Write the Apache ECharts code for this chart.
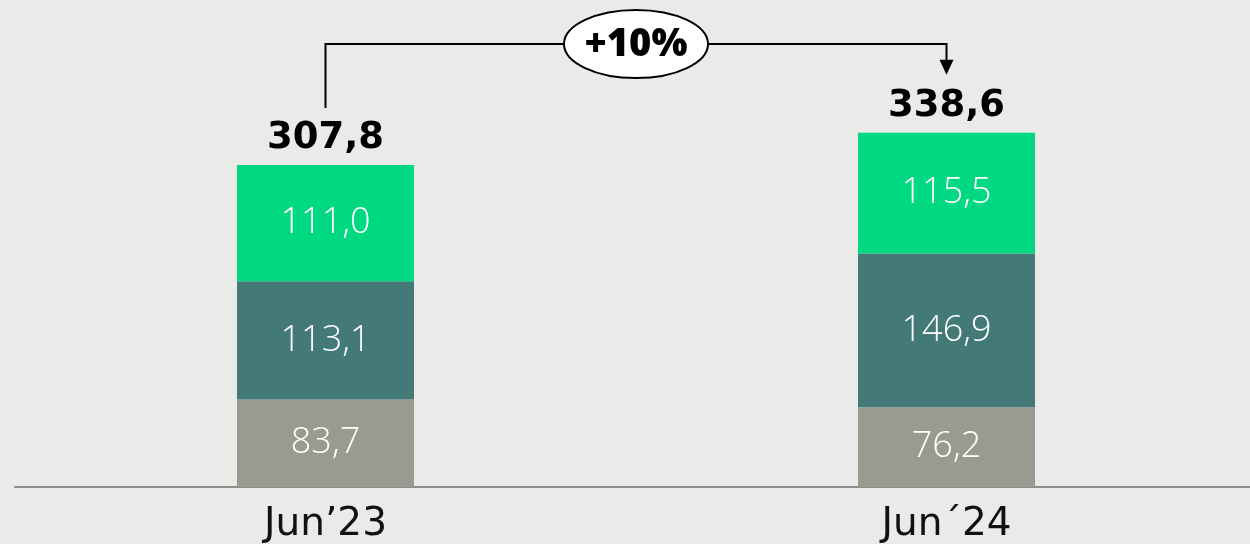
<!DOCTYPE html>
<html><head><meta charset="utf-8">
<script src="https://cdn.jsdelivr.net/npm/echarts@6/dist/echarts.min.js"></script>
<style>html,body{margin:0;padding:0;background:#eaeae8;}#c{width:1250px;height:544px;}</style>
</head><body><div id="c"></div>
<script>
const categories = ['Jun’23', 'Jun´24'];
const bottomValues = [83.7, 76.2];
const middleValues = [113.1, 146.9];
const topValues = [111.0, 115.5];
const totals = [307.8, 338.6];
const changeLabel = '+10%';

const fmt = v => v.toFixed(1).replace('.', ',');
const FONT = '"Open Sans", "Noto Sans", sans-serif';
const WIDE = '"DejaVu Sans", "Open Sans", sans-serif';
const inner = {show: true, position: 'inside', color: '#ffffff', fontFamily: FONT, fontWeight: 300, fontSize: 36,
  formatter: p => fmt(p.value)};

const chart = echarts.init(document.getElementById('c'), null, {renderer: 'canvas'});
chart.setOption({
  backgroundColor: '#eaeae8',
  animation: false,
  grid: {left: 15, width: 1242, top: 67, bottom: 57, containLabel: false, outerBoundsMode: 'none'},
  xAxis: {type: 'category', data: categories,
    axisLine: {show: true, lineStyle: {color: '#8c8c8c', width: 2}},
    axisTick: {show: false},
    axisLabel: {color: '#111', fontFamily: WIDE, fontSize: 39, fontWeight: 400, margin: 18}},
  yAxis: {type: 'value', min: 0, max: 401.5, show: false, splitLine: {show: false}},
  series: [
    {type: 'bar', stack: 's', data: bottomValues, barWidth: 177, itemStyle: {color: '#989b8f'}, label: inner},
    {type: 'bar', stack: 's', data: middleValues, barWidth: 177, itemStyle: {color: '#437a77'}, label: inner},
    {type: 'bar', stack: 's', data: topValues, barWidth: 177, itemStyle: {color: '#00d882'}, label: inner},
    {type: 'bar', stack: 's', data: [0, 0], barWidth: 177, itemStyle: {color: 'transparent'},
      label: {show: true, position: 'top', distance: 8, color: '#000', fontFamily: WIDE, fontWeight: 'bold', fontSize: 37,
        formatter: p => fmt(totals[p.dataIndex])}}
  ]
});

// Annotation bracket, positioned from the chart's own scales
const p1 = chart.convertToPixel({seriesIndex: 0}, [0, totals[0]]);
const p2 = chart.convertToPixel({seriesIndex: 0}, [1, totals[1]]);
const x1 = p1[0], x2 = p2[0];
const yTopLine = 44;
const yLeftEnd = p1[1] - 57;
const yArrowTip = p2[1] - 58;
const cx = (x1 + x2) / 2;
chart.setOption({
  graphic: [
    {type: 'polyline', shape: {points: [[x1, yLeftEnd], [x1, yTopLine], [x2, yTopLine], [x2, yArrowTip - 14]]},
      style: {stroke: '#000', lineWidth: 2, fill: null}, z: 10},
    {type: 'polygon', shape: {points: [[x2 - 7, yArrowTip - 15], [x2 + 7, yArrowTip - 15], [x2, yArrowTip]]},
      style: {fill: '#000'}, z: 10},
    {type: 'ellipse', shape: {cx: cx, cy: yTopLine, rx: 72, ry: 34},
      style: {fill: '#fff', stroke: '#000', lineWidth: 2}, z: 11},
    {type: 'text', x: cx, y: yTopLine + 1, style: {text: changeLabel, fill: '#000', fontFamily: FONT, fontWeight: 800, fontSize: 38,
      align: 'center', verticalAlign: 'middle'}, z: 12}
  ]
});
</script></body></html>
